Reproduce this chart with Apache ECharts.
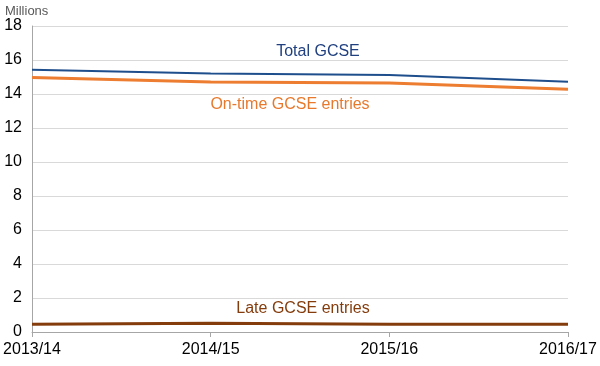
<!DOCTYPE html>
<html><head><meta charset="utf-8">
<script src="https://cdn.jsdelivr.net/npm/echarts@6/dist/echarts.min.js"></script>
<style>html,body{margin:0;padding:0;background:#fff}#c{width:600px;height:366px}</style>
</head><body><div id="c"></div>
<script>
const categories = ['2013/14', '2014/15', '2015/16', '2016/17'];
const totalGCSE = [15.43, 15.2, 15.12, 14.72];
const onTimeGCSE = [14.97, 14.7, 14.65, 14.28];
const lateGCSE = [0.45, 0.52, 0.46, 0.45];
const yTicks = { min: 0, max: 18, interval: 2 };

const chart = echarts.init(document.getElementById('c'), null, { renderer: 'canvas' });
const font = 'Liberation Sans, Arial, sans-serif';
chart.setOption({
  animation: false,
  grid: { left: 32, right: 32, top: 26, bottom: 34, containLabel: false },
  xAxis: {
    type: 'category', data: categories, boundaryGap: false,
    axisLine: { lineStyle: { color: '#a6a6a6' } },
    axisTick: { show: true, length: 5, lineStyle: { color: '#a6a6a6' } },
    axisLabel: { color: '#000', fontFamily: font, fontSize: 16, margin: 10,
      alignMinLabel: 'center', alignMaxLabel: 'center' }
  },
  yAxis: {
    type: 'value', min: yTicks.min, max: yTicks.max, interval: yTicks.interval,
    axisLine: { show: true, lineStyle: { color: '#a6a6a6' } },
    axisTick: { show: false },
    axisLabel: { color: '#000', fontFamily: font, fontSize: 16, margin: 10 },
    splitLine: { lineStyle: { color: '#d9d9d9' } }
  },
  graphic: [
    { type: 'text', left: 5, top: 5, style: { text: 'Millions', fill: '#595959', font: '13px ' + font } },
    { type: 'text', x: 318, y: 52, style: { text: 'Total GCSE', fill: '#1f3f7f', font: '16px ' + font, textAlign: 'center', textVerticalAlign: 'middle' } },
    { type: 'text', x: 290, y: 105, style: { text: 'On-time GCSE entries', fill: '#e8792c', font: '16px ' + font, textAlign: 'center', textVerticalAlign: 'middle' } },
    { type: 'text', x: 303, y: 309, style: { text: 'Late GCSE entries', fill: '#843c0c', font: '16px ' + font, textAlign: 'center', textVerticalAlign: 'middle' } }
  ],
  series: [
    { name: 'On-time GCSE entries', type: 'line', data: onTimeGCSE, symbol: 'none', lineStyle: { color: '#ed7d31', width: 3 } },
    { name: 'Total GCSE', type: 'line', data: totalGCSE, symbol: 'none', lineStyle: { color: '#1f4e8c', width: 2 } },
    { name: 'Late GCSE entries', type: 'line', data: lateGCSE, symbol: 'none', lineStyle: { color: '#843c0c', width: 3 } }
  ]
});
</script></body></html>
